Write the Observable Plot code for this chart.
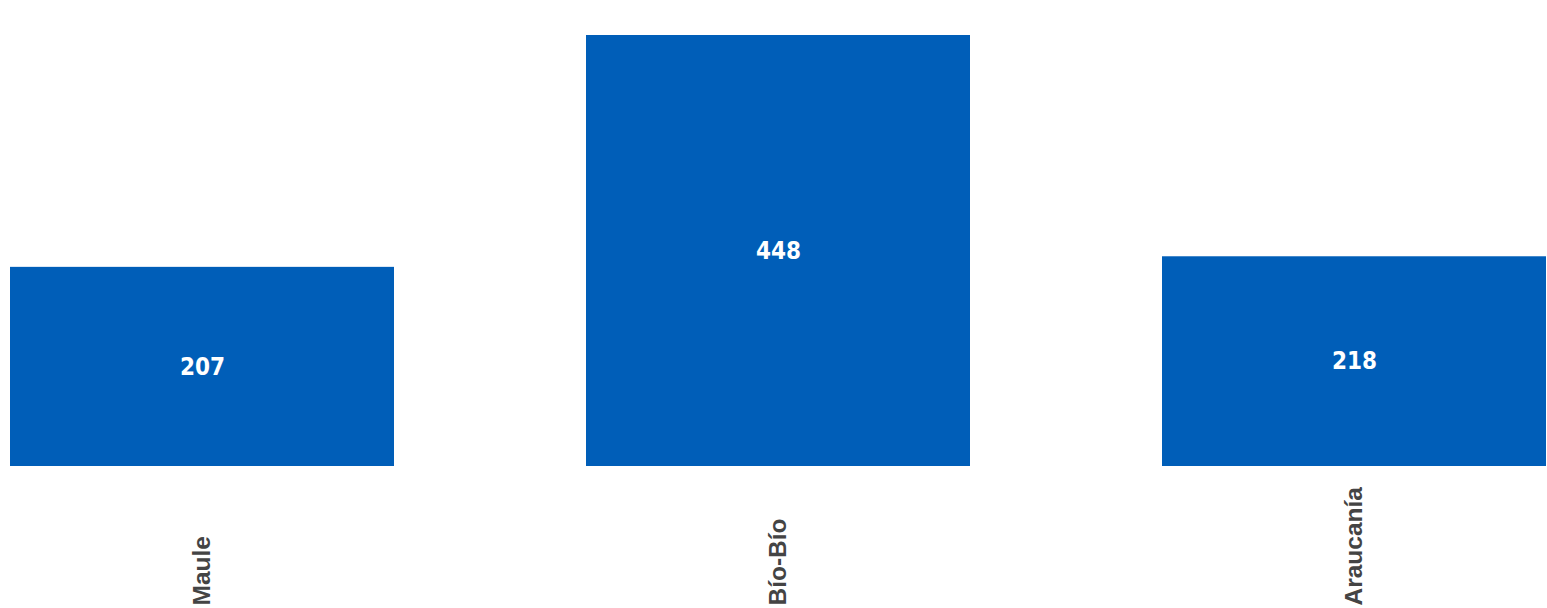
<!DOCTYPE html>
<html>
<head>
<meta charset="utf-8">
<script src="https://cdn.jsdelivr.net/npm/d3@7"></script>
<script src="https://cdn.jsdelivr.net/npm/@observablehq/plot@0.6"></script>
<style>
  html, body { margin: 0; padding: 0; background: #fff; }
  #chart svg { display: block; }
</style>
</head>
<body>
<div id="chart"></div>
<script>
const regions = ["Maule", "Bío-Bío", "Araucanía"];
const counts = [207, 448, 218];

const data = regions.map((r, i) => ({region: r, value: counts[i]}));

const chart = Plot.plot({
  width: 1547,
  height: 608,
  marginTop: 35,
  marginBottom: 142,
  marginLeft: 10,
  marginRight: 1,
  style: {background: "#fff"},
  x: {domain: regions, paddingInner: 1/3, paddingOuter: 0, axis: null},
  y: {domain: [0, 448], axis: null},
  marks: [
    Plot.barY(data, {x: "region", y: "value", fill: "#005EB8"}),
    Plot.text(data, {
      x: "region",
      y: d => d.value / 2,
      text: d => String(d.value),
      fill: "#fff",
      fontSize: 24,
      fontFamily: "'DejaVu Sans Condensed', 'DejaVu Sans', sans-serif",
      fontStretch: "condensed",
      fontWeight: "bold"
    }),
    Plot.text(data, {
      x: "region",
      text: "region",
      frameAnchor: "bottom",
      dy: 139,
      rotate: -90,
      textAnchor: "start",
      lineAnchor: "middle",
      fill: "#444",
      fontSize: 24.5,
      fontWeight: "bold",
      fontFamily: "'Liberation Sans', Arial, sans-serif"
    })
  ]
});
document.getElementById("chart").appendChild(chart);
</script>
</body>
</html>
